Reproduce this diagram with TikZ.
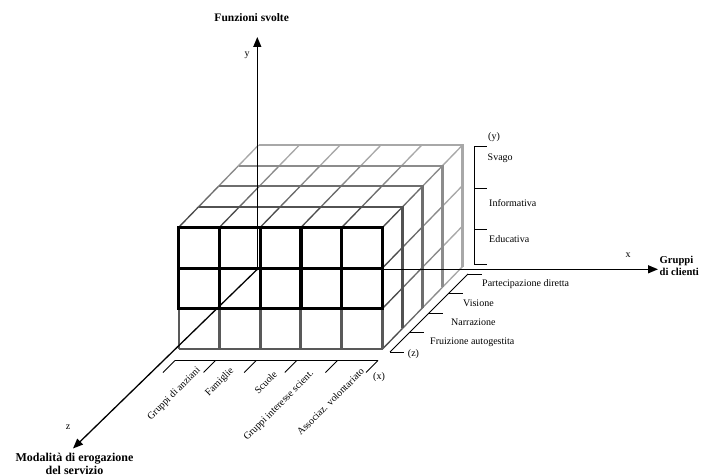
\documentclass[tikz,border=0pt]{standalone}
\usepackage{fontspec}
\setmainfont{Liberation Serif}
\usetikzlibrary{arrows.meta,calc}

% grey levels of the depth layers, back (0) to front (3)
\definecolor{lay0}{gray}{0.66}
\definecolor{lay1}{gray}{0.55}
\definecolor{lay2}{gray}{0.43}
\definecolor{lay3}{gray}{0.32}
% grey levels of the receding edges between two layers
\definecolor{seg0}{gray}{0.66}
\definecolor{seg1}{gray}{0.54}
\definecolor{seg2}{gray}{0.42}
\definecolor{seg3}{gray}{0.30}
\definecolor{lowrow}{gray}{0.35}

\begin{document}
\begin{tikzpicture}[x=1pt,y=-1pt,
  layer/.style={line width=2.1pt, line join=miter},
  diag/.style={line width=1.35pt},
  axis/.style={line width=1.3pt, -{Triangle[length=10pt,width=8pt]}},
  scale line/.style={line width=0.9pt},
  lab/.style={font=\fontsize{10}{12}\selectfont, inner sep=0pt},
  title/.style={font=\bfseries\fontsize{11.5}{13.5}\selectfont, inner sep=0pt}]
\useasboundingbox (0,0) rectangle (707,476);

% grid points: i along x (0..5), j rows from top (0..3), k depth from back (0..4)
\foreach \i in {0,...,5}
  \foreach \j in {0,...,3}
    \foreach \k in {0,...,4}
      \coordinate (p\i\j\k) at ({178.5+40.8*\i+20*(4-\k)},{227.5+40.5*\j-20.6*(4-\k)});

% receding edges on the top face and on the right face
\foreach \k/\c [evaluate=\k as \kn using int(\k+1)] in {0/seg0,1/seg1,2/seg2,3/seg3} {
  \foreach \i in {0,...,5}
    \draw[diag, \c] (p\i0\k) -- (p\i0\kn);
  \foreach \j in {1,...,3}
    \draw[diag, \c] (p5\j\k) -- (p5\j\kn);
}

% outline of each depth layer: top edge and right edge
\foreach \k/\c in {0/lay0,1/lay1,2/lay2,3/lay3}
  \draw[layer, \c] (p00\k) -- (p50\k) -- (p53\k);

% front face, lowest row in grey
\draw[lowrow, line width=1.7pt] (p034) -- (p534);
\foreach \i in {1,...,4}
  \draw[lowrow, line width=3pt] (p\i24) -- (p\i34);
\draw[lowrow, line width=2pt] (p024) -- (p034);
\draw[lowrow, line width=2.2pt] (p524) -- (p534);

% front face, two upper rows in black
\foreach \i in {1,...,4}
  \draw[line width=3.2pt] (p\i04) -- (p\i24);
\draw[line width=3pt] (p014) -- (p514);
\draw[line width=2.1pt] (p004) rectangle (p524);

% axes
\coordinate (o) at (257.3,269.3);
\coordinate (ytip) at (257.3,37);
\coordinate (xtip) at (658,269.3);
\coordinate (ztip) at (73,448.5);
\draw[axis] (o) -- (ytip);
\draw[axis] (o) -- (xtip);
\draw[axis] (o) -- (ztip);
\node[lab] (ylab) at (247,55) {y};
\node[lab] (xlab) at (628,255) {x};
\node[lab] (zlab) at (68,427) {z};

\node[title] (fy) at (251.7,18) {Funzioni svolte};
\node[font=\bfseries\fontsize{10.6}{12.5}\selectfont, inner sep=0pt, align=left, anchor=west] (fx) at (659.5,266) {Gruppi\\di clienti};
\node[font=\bfseries\fontsize{12}{13}\selectfont, inner sep=0pt, align=center] (fz) at (74.5,463.5) {Modalità di erogazione\\del servizio};

% scale of the functions (y)
\coordinate (ya) at (474,146.7);
\coordinate (yb) at (474,264);
\draw[scale line] (ya) -- (yb);
\foreach \yy in {146.7,188.3,229,264}
  \draw[scale line] (474,\yy) -- (487,\yy);
\node[lab] (yh) at (494,137) {(y)};
\node[lab, anchor=west] (svago) at (487.5,158) {Svago};
\node[lab, anchor=west] (info) at (489,203) {Informativa};
\node[lab, anchor=west] (edu) at (489,239.5) {Educativa};

% scale of the modes of delivery (z)
\coordinate (za) at (390,352);
\coordinate (zb) at (468,274);
\draw[scale line] (za) -- (zb);
\foreach \t in {0,...,4}
  \draw[scale line] ($(za)!\t/4!(zb)$) -- ++(14,0);
\node[lab] (zh) at (413.5,354.5) {(z)};
\node[lab, anchor=west] (part) at (482,284.5) {Partecipazione diretta};
\node[lab, anchor=west] (vis) at (463,303.5) {Visione};
\node[lab, anchor=west] (narr) at (451,322.5) {Narrazione};
\node[lab, anchor=west] (fruiz) at (430,342.5) {Fruizione autogestita};

% scale of the client groups (x)
\coordinate (xa) at (175,360.5);
\coordinate (xb) at (378,360.5);
\draw[scale line] (xa) -- (xb);
\foreach \t in {0,...,5}
  \draw[scale line] ($(xa)!\t/5!(xb)$) -- ++(-12,12);
\node[lab] (xh) at (379,377.5) {(x)};
\node[lab, rotate=45, anchor=east] (g1) at (199,369) {Gruppi di anziani};
\node[lab, rotate=45, anchor=east] (g2) at (232.5,369.5) {Famiglie};
\node[lab, rotate=45, anchor=east] (g3) at (275.5,372.5) {Scuole};
\node[lab, rotate=45, anchor=east] (g4) at (312.5,372.5) {Gruppi interesse scient.};
\node[lab, rotate=45, anchor=east] (g5) at (362.5,369.5) {Associaz. volontariato};
\end{tikzpicture}
\end{document}
